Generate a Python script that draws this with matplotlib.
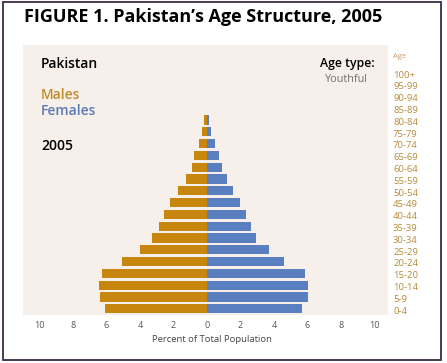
import matplotlib
matplotlib.use("Agg")
import matplotlib.pyplot as plt
from matplotlib.patches import Rectangle

ages = ["0-4", "5-9", "10-14", "15-20", "20-24", "25-29", "30-34", "35-39",
        "40-44", "45-49", "50-54", "55-59", "60-64", "65-69", "70-74",
        "75-79", "80-84", "85-89", "90-94", "95-99", "100+"]
males = [6.1, 6.37, 6.47, 6.29, 5.06, 3.99, 3.26, 2.86, 2.58, 2.2, 1.71,
         1.25, 0.91, 0.76, 0.48, 0.32, 0.15, 0, 0, 0, 0]
females = [5.67, 6.03, 6.03, 5.85, 4.6, 3.67, 2.9, 2.62, 2.34, 1.96, 1.57,
           1.21, 0.91, 0.71, 0.48, 0.24, 0.1, 0, 0, 0, 0]
xticks = [-10, -8, -6, -4, -2, 0, 2, 4, 6, 8, 10]
xticklabels = ["10", "8", "6", "4", "2", "0", "2", "4", "6", "8", "10"]

W, H = 447, 363
plt.rcParams['font.family'] = ['Open Sans', 'DejaVu Sans']
fig = plt.figure(figsize=(W / 100, H / 100), dpi=100)
fig.patch.set_facecolor("white")

def fx(px):
    return px / W

def fy(py):
    return 1 - py / H

ax = fig.add_axes([fx(23), fy(315), fx(388) - fx(23), fy(45) - fy(315)])
ax.set_facecolor("#f7f0ea")
male_c = "#c8860f"
female_c = "#5a7fc0"
y = list(range(len(ages)))
ax.barh(y, [-m for m in males], height=0.78, color=male_c, edgecolor="none")
ax.barh(y, females, height=0.78, color=female_c, edgecolor="none")
ax.set_xlim(-10.98, 10.8)
ax.set_ylim(-0.53, 22.36)
for s in ax.spines.values():
    s.set_visible(False)
ax.set_yticks([])
ax.set_xticks(xticks)
ax.set_xticklabels(xticklabels)
ax.tick_params(axis="x", length=0, pad=4, labelsize=6.5, labelcolor="#555555")

for i, a in enumerate(ages):
    ax.text(10.8 + 5 / 16.75, i - 0.2, a, ha="left", va="center",
            fontsize=6.8, color="#b88a3a", clip_on=False)
fig.text(fx(393), fy(57), "Age", ha="left", va="center", fontsize=5.5,
         color="#c9a06a")

fig.text(fx(24), fy(17), "FIGURE 1. Pakistan\u2019s Age Structure, 2005",
         ha="left", va="center", fontsize=13, fontweight="bold", color="black")
fig.text(fx(41), fy(64), "Pakistan", ha="left", va="center", fontsize=10,
         fontweight="semibold", color="black")
fig.text(fx(41), fy(95), "Males", ha="left", va="center", fontsize=10,
         fontweight="semibold", color="#c38b2e")
fig.text(fx(41), fy(111), "Females", ha="left", va="center", fontsize=10,
         fontweight="semibold", color="#5c7bb5")
fig.text(fx(41), fy(146), "2005", ha="left", va="center", fontsize=10,
         fontweight="semibold", color="black")
fig.text(fx(375), fy(64), "Age type:", ha="right", va="center", fontsize=8.8,
         fontweight="semibold", color="black")
fig.text(fx(368), fy(79), "Youthful", ha="right", va="center", fontsize=7.8,
         color="#707070")
fig.text(fx(212), fy(339), "Percent of Total Population", ha="center",
         va="center", fontsize=6.8, color="#444444")

fig.patches.append(Rectangle((fx(3), fy(360)), fx(441) - fx(3), fy(2) - fy(360),
                             transform=fig.transFigure, fill=False,
                             edgecolor="#3d2a45", linewidth=1.3))

fig.savefig("out.png", dpi=100)
